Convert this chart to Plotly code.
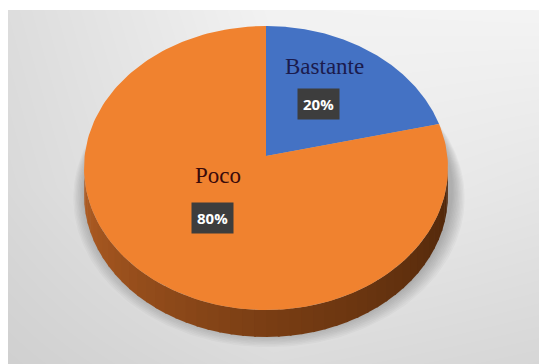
import numpy as np
import plotly.graph_objects as go

# ---- data ----
categories = ["Bastante", "Poco"]
values = [20, 80]
slice_colors = ["#4472C4", "#F0822F"]
pct_labels = ["20%", "80%"]

# ---- geometry / style (pixel space) ----
W, H = 539, 364
CX, CY = 266, 168          # ellipse centre of the top face
RX, RY = 182, 142          # semi axes
APEX = (266, 156)          # visual apex of the slices (perspective)
DEPTH = 27                 # thickness of the disc

def ell(theta_deg, dy=0.0, sx=1.0, sy=1.0, cx=CX, cy=CY):
    t = np.radians(theta_deg)
    return cx + RX * sx * np.cos(t), cy - RY * sy * np.sin(t) + dy

fig = go.Figure()

# background gradient panel
bg_x = [8, 273, 539]
bg_y = [10, 187, 364]
bg_z = [[0.865, 0.95, 0.955],
        [0.85, 0.93, 0.90],
        [0.815, 0.86, 0.84]]
fig.add_trace(go.Heatmap(x=bg_x, y=bg_y, z=bg_z, zmin=0, zmax=1,
                         colorscale=[[0, "rgb(0,0,0)"], [1, "rgb(255,255,255)"]],
                         zsmooth="best", showscale=False, hoverinfo="skip"))

# soft shadow below the disc (many faint layers)
n_sh = 10
for i in range(n_sh):
    u = i / (n_sh - 1)
    sx = 1.075 - 0.065 * u
    sy = 1.05 - 0.04 * u
    dy = 30 - 8 * u
    th = np.linspace(0, 360, 241)
    x, y = ell(th, sx=sx, sy=sy, cx=CX + 3, cy=CY + dy)
    fig.add_trace(go.Scatter(x=x, y=y, mode="lines", fill="toself",
                             fillcolor="rgba(70,70,70,0.035)", line=dict(width=0),
                             hoverinfo="skip", showlegend=False))

# side of the disc (front half), drawn as shaded segments
N = 48
edges = np.linspace(180, 360, N + 1)
c_left = np.array([178, 94, 36])
c_mid = np.array([122, 62, 20])
c_right = np.array([78, 38, 10])
for k in range(N):
    a0, a1 = edges[k], edges[k + 1] + 0.6
    th = np.linspace(a0, min(a1, 360), 6)
    xt, yt = ell(th)
    xb, yb = ell(th[::-1], dy=DEPTH)
    u = (k + 0.5) / N
    if u < 0.5:
        c = c_left + (c_mid - c_left) * (u / 0.5)
    else:
        c = c_mid + (c_right - c_mid) * ((u - 0.5) / 0.5)
    col = "rgb(%d,%d,%d)" % tuple(c.astype(int))
    fig.add_trace(go.Scatter(x=np.r_[xt, xb], y=np.r_[yt, yb], mode="lines",
                             fill="toself", fillcolor=col, line=dict(width=0),
                             hoverinfo="skip", showlegend=False))

# top face slices, computed from the values
total = float(sum(values))
cum = 0.0
for name, v, col in zip(categories, values, slice_colors):
    f0, f1 = cum / total, (cum + v) / total
    cum += v
    th = np.linspace(90 - 360 * f0, 90 - 360 * f1, 200)
    x, y = ell(th)
    fig.add_trace(go.Scatter(x=np.r_[APEX[0], x, APEX[0]], y=np.r_[APEX[1], y, APEX[1]],
                             mode="lines", fill="toself", fillcolor=col,
                             line=dict(width=0), name=name, hoverinfo="name",
                             showlegend=False))

# labels
name_pos = [(324, 66), (218, 175)]
name_col = ["#1b1b4d", "#3a0b0b"]
pct_pos = [(318, 104), (212, 218)]
for i in range(len(categories)):
    fig.add_annotation(x=name_pos[i][0], y=name_pos[i][1], text=categories[i],
                       showarrow=False,
                       font=dict(family="Liberation Serif", size=23, color=name_col[i]))
    fig.add_annotation(x=pct_pos[i][0], y=pct_pos[i][1], text="<b>%s</b>" % pct_labels[i],
                       showarrow=False, bgcolor="#3d3d3d", borderpad=5,
                       font=dict(family="Open Sans", size=15, color="#ffffff"))

fig.update_layout(
    width=W, height=H,
    margin=dict(l=8, r=0, t=10, b=0),
    paper_bgcolor="white", plot_bgcolor="#e2e2e2",
    showlegend=False,
    xaxis=dict(range=[8, W], visible=False, fixedrange=True),
    yaxis=dict(range=[H, 10], visible=False, fixedrange=True),
)

fig.write_html("out.html")
